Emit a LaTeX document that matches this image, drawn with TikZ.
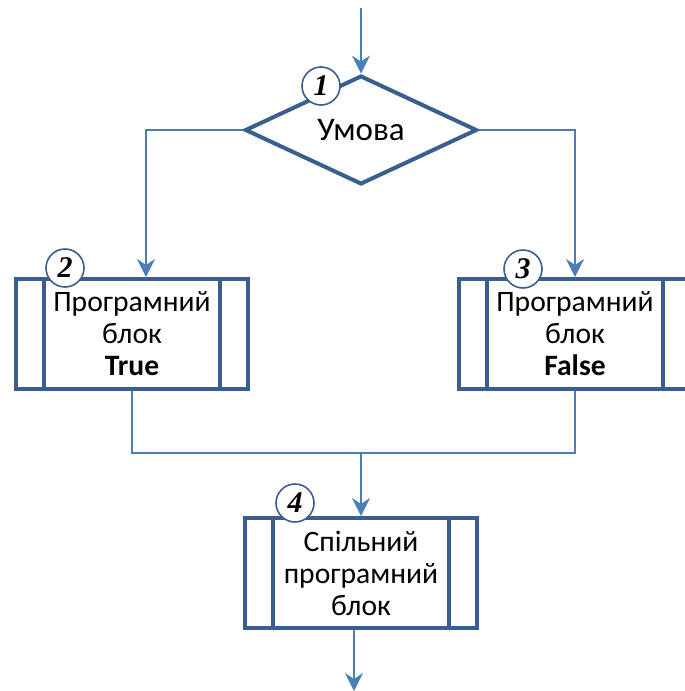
\documentclass[tikz,border=0pt]{standalone}
\usepackage{fontspec}
\setmainfont{Carlito}
\newfontfamily\numfont{Liberation Serif}
\usetikzlibrary{positioning,shapes.geometric,arrows.meta}
\definecolor{boxblue}{HTML}{3A5F8E}
\definecolor{linkblue}{HTML}{4A7EBB}

\begin{document}
\begin{tikzpicture}[
    x=0.5pt, y=-0.5pt,
    every node/.style={align=center, font=\fontsize{14.8}{16}\selectfont},
    cond/.style={diamond, draw=boxblue, line width=2pt, inner sep=0pt,
        minimum width=116pt, minimum height=54pt, fill=white,
        font=\fontsize{16.5}{18}\selectfont},
    prog/.style={rectangle, draw=boxblue, line width=2pt, inner sep=0pt,
        minimum width=116pt, minimum height=55pt, fill=white},
    num/.style={circle, draw=boxblue, line width=0.8pt, fill=white,
        minimum size=19pt, inner sep=0pt,
        font=\fontsize{15}{15}\selectfont\numfont\bfseries\itshape},
    link/.style={draw=linkblue, line width=1pt},
    >={Stealth[length=9pt, width=9pt, inset=3pt]}
]
\useasboundingbox (0,0) rectangle (685,691);
\clip (0,0) rectangle (685,691);

% blocks
\node[cond] (c1) at (361,130) {Умова};
\node[prog] (b2) at (132,334) {Програмний\\блок\\\textbf{True}};
\node[prog] (b3) at (575,334) {Програмний\\блок\\\textbf{False}};
\node[prog] (b4) at (361,573) {Спільний\\програмний\\блок};

\foreach \b in {b2,b3,b4} {
    \draw[boxblue, line width=2pt]
        ([xshift=15pt]\b.north west) -- ([xshift=15pt]\b.south west)
        ([xshift=-15pt]\b.north east) -- ([xshift=-15pt]\b.south east);
}

% connectors
\coordinate (in) at (361,8);
\coordinate (j) at (361,453);
\coordinate (out) at (354,691);
\draw[link,->] (in) -- (c1.north);
\draw[link,->] (c1.west) -| ([xshift=7pt]b2.north);
\draw[link,->] (c1.east) -| (b3.north);
\draw[link] (b2.south) |- (j);
\draw[link] (b3.south) |- (j);
\draw[link,->] (j) -- (b4.north);
\draw[link,->] ([xshift=-3.5pt]b4.south) -- (out);

% numbers
\node[num] (n1) at (321,86) {1};
\node[num] (n2) at (65,268) {2};
\node[num] (n3) at (523,269) {3};
\node[num] (n4) at (295,503) {4};
\end{tikzpicture}
\end{document}
